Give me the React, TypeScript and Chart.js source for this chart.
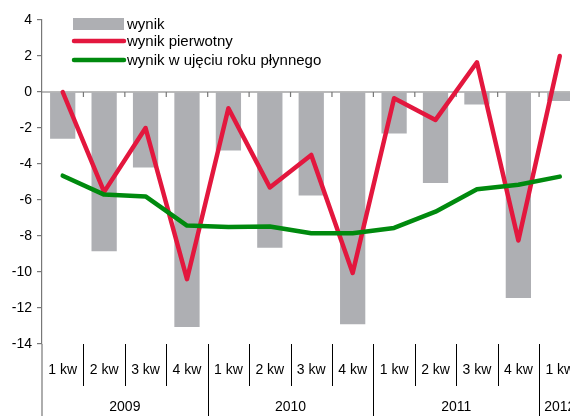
import React, { useEffect, useRef } from "react";
import { Chart, registerables } from "chart.js";

Chart.register(...registerables);

const quarters = ["1 kw", "2 kw", "3 kw", "4 kw", "1 kw", "2 kw", "3 kw", "4 kw", "1 kw", "2 kw", "3 kw", "4 kw", "1 kw"];
const years = ["2009", "2010", "2011", "2012"];
const wynik = [-2.6, -8.85, -4.2, -13.05, -3.25, -8.65, -5.75, -12.9, -2.3, -5.05, -0.7, -11.45, -0.5];
const wynikPierwotny = [0.0, -5.55, -2.0, -10.4, -0.9, -5.3, -3.5, -10.05, -0.35, -1.55, 1.65, -8.25, 2.0];
const wynikRoku = [-4.65, -5.7, -5.8, -7.42, -7.5, -7.47, -7.85, -7.85, -7.55, -6.65, -5.4, -5.15, -4.7];
const yMin = -14;
const yMax = 4;
const yStep = 2;

const FONT = "'Liberation Sans', Arial, sans-serif";
const GREY = "#AEAFB3";
const RED = "#E3173E";
const GREEN = "#008A0E";
const AXIS = "#777777";

const decorPlugin = {
  id: "decor",
  beforeDatasetsDraw(chart: any) {
    const { ctx, chartArea, scales } = chart;
    const x = scales.x;
    const y = scales.y;
    const y0 = y.getPixelForValue(0);
    ctx.save();
    ctx.strokeStyle = AXIS;
    ctx.lineWidth = 1.2;
    ctx.beginPath();
    ctx.moveTo(chartArea.left, y0);
    ctx.lineTo(chartArea.right, y0);
    const n = quarters.length;
    for (let i = 1; i <= n; i++) {
      const bx = (x.getPixelForValue(i - 1) + x.getPixelForValue(i)) / 2;
      ctx.moveTo(bx, y0);
      ctx.lineTo(bx, y0 + 5);
    }
    ctx.stroke();
    ctx.restore();
  },
  afterDraw(chart: any) {
    const { ctx, chartArea, scales, data } = chart;
    const x = scales.x;
    const n = quarters.length;
    const bottom = chartArea.bottom;
    ctx.save();
    // extend y axis line to bottom
    ctx.strokeStyle = AXIS;
    ctx.lineWidth = 1.2;
    ctx.beginPath();
    ctx.moveTo(chartArea.left, chartArea.bottom);
    ctx.lineTo(chartArea.left, chart.height);
    ctx.stroke();

    // separators
    ctx.strokeStyle = "#000000";
    ctx.lineWidth = 1;
    for (let i = 1; i < n + 1; i++) {
      const bx = Math.round((x.getPixelForValue(i - 1) + x.getPixelForValue(i)) / 2) + 0.5;
      const isYear = i % 4 === 0;
      ctx.beginPath();
      ctx.moveTo(bx, bottom);
      ctx.lineTo(bx, isYear ? chart.height : bottom + 42);
      ctx.stroke();
    }

    // quarter labels
    ctx.fillStyle = "#000000";
    ctx.font = `14px ${FONT}`;
    ctx.textAlign = "center";
    ctx.textBaseline = "middle";
    for (let i = 0; i < n; i++) {
      ctx.fillText(quarters[i], x.getPixelForValue(i), bottom + 26);
    }
    // year labels
    for (let g = 0; g < years.length; g++) {
      const first = g * 4;
      const last = Math.min(first + 3, n - 1);
      const cx = (x.getPixelForValue(first) + x.getPixelForValue(last)) / 2;
      ctx.fillText(years[g], cx, bottom + 63);
    }

    // legend
    const lx = 73;
    const lw = 51;
    const tx = 127;
    const rows = [24, 41, 60];
    ctx.textAlign = "left";
    ctx.font = `15px ${FONT}`;
    data.datasets.forEach((ds: any) => {
      const idx = ds.legendIndex;
      const ry = rows[idx];
      if (ds.type === "bar" || !ds.type) {
        ctx.fillStyle = GREY;
        ctx.fillRect(lx, ry - 6, lw, 12);
      } else {
        ctx.strokeStyle = ds.borderColor;
        ctx.lineWidth = 4.5;
        ctx.lineCap = "round";
        ctx.beginPath();
        ctx.moveTo(lx + 1, ry);
        ctx.lineTo(lx + lw, ry);
        ctx.stroke();
      }
      ctx.fillStyle = "#000000";
      ctx.fillText(ds.label, tx, ry + 1);
    });
    ctx.restore();
  },
};

function ChartView() {
  const ref = useRef<HTMLCanvasElement | null>(null);
  useEffect(() => {
    if (!ref.current) return;
    const chart = new Chart(ref.current, {
      type: "bar",
      data: {
        labels: quarters,
        datasets: [
          {
            type: "line",
            label: "wynik w ujęciu roku płynnego",
            data: wynikRoku,
            borderColor: GREEN,
            backgroundColor: GREEN,
            borderWidth: 4.5,
            pointRadius: 0,
            tension: 0,
            borderJoinStyle: "round",
            borderCapStyle: "round",
            order: 0,
            legendIndex: 2,
          } as any,
          {
            type: "line",
            label: "wynik pierwotny",
            data: wynikPierwotny,
            borderColor: RED,
            backgroundColor: RED,
            borderWidth: 4.5,
            pointRadius: 0,
            tension: 0,
            borderJoinStyle: "round",
            borderCapStyle: "round",
            order: 1,
            legendIndex: 1,
          } as any,
          {
            type: "bar",
            label: "wynik",
            data: wynik,
            backgroundColor: GREY,
            barPercentage: 0.61,
            categoryPercentage: 1,
            order: 2,
            legendIndex: 0,
          } as any,
        ],
      },
      options: {
        responsive: false,
        animation: false,
        layout: { padding: { left: 0, right: 19.5, top: 20, bottom: 72 } },
        plugins: { legend: { display: false }, tooltip: { enabled: false } },
        scales: {
          x: { display: false },
          y: {
            min: yMin,
            max: yMax,
            afterFit: (scale: any) => {
              scale.width = 42;
            },
            ticks: {
              stepSize: yStep,
              color: "#000000",
              font: { family: FONT, size: 14 },
              padding: 5,
            },
            grid: {
              drawOnChartArea: false,
              drawTicks: true,
              tickLength: 5,
              color: AXIS,
              lineWidth: 1.2,
            },
            border: { display: true, color: AXIS, width: 1.2 },
          },
        },
      },
      plugins: [decorPlugin],
    });
    return () => chart.destroy();
  }, []);
  return <canvas ref={ref} width={600} height={416} style={{ display: "block" }} />;
}

export default function App() {
  return (
    <div style={{ position: "fixed", left: 0, top: 0, width: 570, height: 416, overflow: "hidden", background: "#fff" }}>
      <ChartView />
    </div>
  );
}
